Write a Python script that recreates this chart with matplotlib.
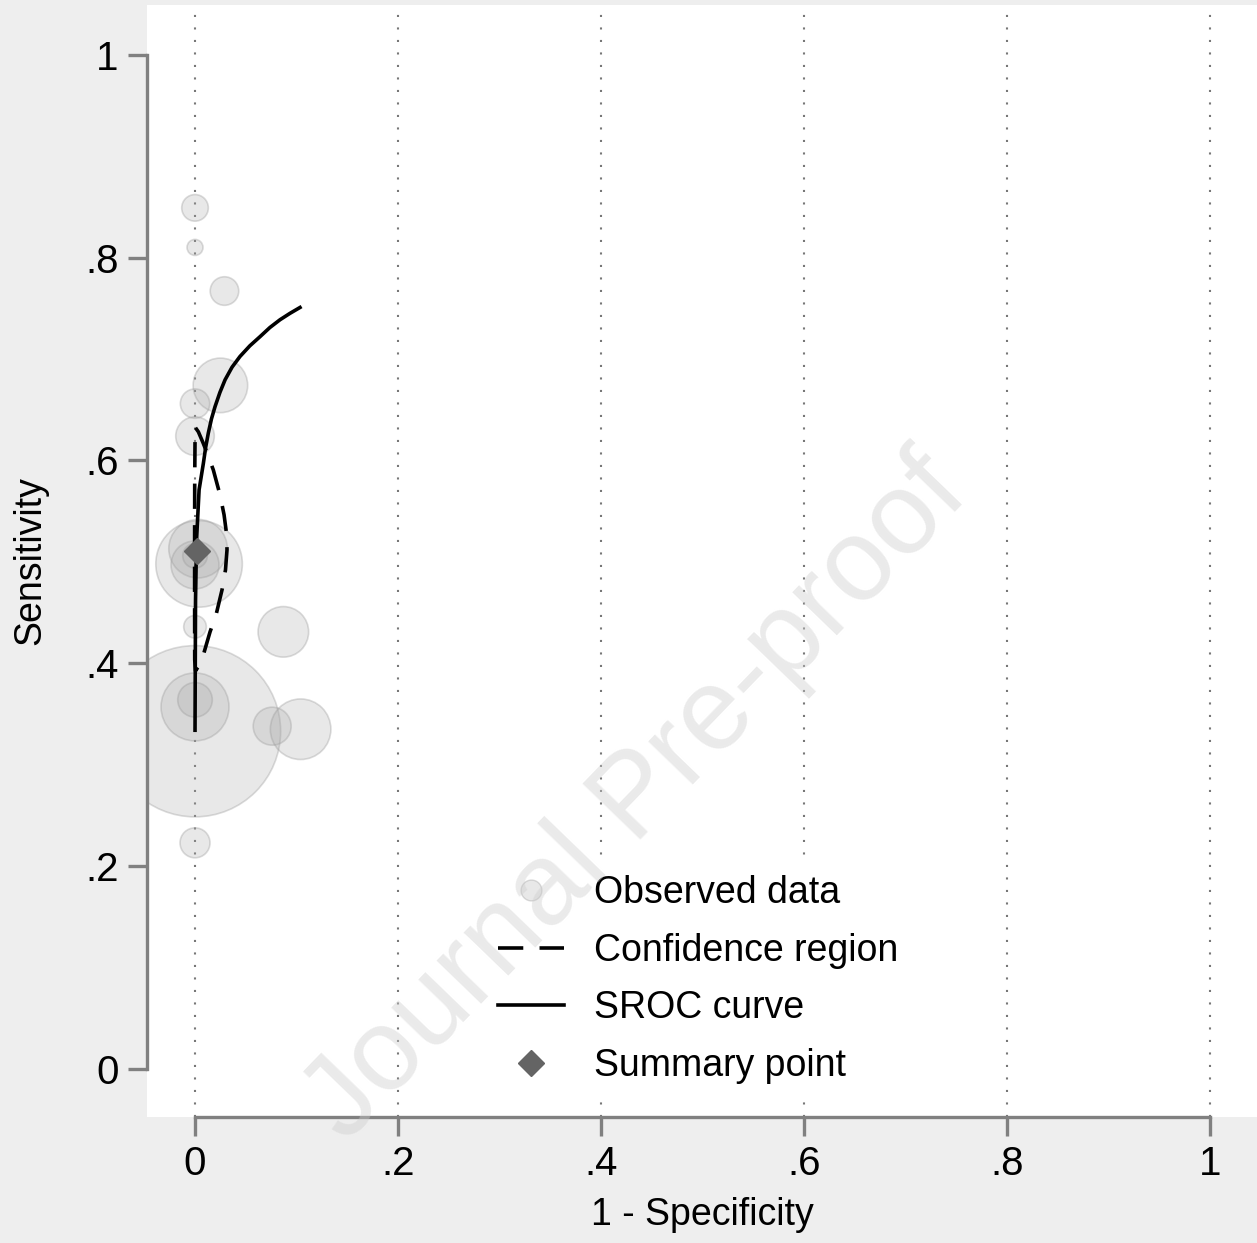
import numpy as np
from matplotlib import pyplot as plt
from matplotlib.lines import Line2D

plt.rcParams['font.family'] = ['Liberation Sans', 'DejaVu Sans']

# observed studies: 1 - specificity, sensitivity, study weight
fpr = [0.0, 0.0, 0.029, 0.025, 0.0, 0.0, 0.004, 0.003, 0.0, 0.0,
       0.0, 0.087, 0.0, 0.0, 0.0, 0.076, 0.104, 0.0]
sens = [0.849, 0.810, 0.767, 0.674, 0.656, 0.624, 0.498, 0.513, 0.497, 0.506,
        0.436, 0.431, 0.333, 0.357, 0.364, 0.338, 0.335, 0.223]
weight = [177, 64, 204, 745, 216, 372, 1875, 858, 576, 151,
          128, 640, 7344, 1156, 299, 361, 918, 225]

# summary point
sum_fpr = 0.0017
sum_sens = 0.511

# SROC curve
sroc_x = [0.0, 0.0005, 0.0015, 0.004, 0.0082, 0.0105, 0.0131, 0.0162, 0.0197,
          0.0245, 0.0296, 0.0365, 0.0443, 0.054, 0.064, 0.0737, 0.0837, 0.0935, 0.1034]
sroc_y = [0.334, 0.4625, 0.5217, 0.571, 0.597, 0.613, 0.627, 0.641, 0.653,
          0.667, 0.6795, 0.692, 0.7025, 0.713, 0.722, 0.731, 0.7387, 0.745, 0.7508]

# confidence region
conf_x = [0.0005, 0.0033, 0.0079, 0.0118, 0.0180, 0.0246, 0.0286, 0.0312,
          0.0315, 0.0300, 0.0266, 0.0207, 0.0148, 0.0082, 0.0030, 0.0005,
          -0.0003, -0.0004, -0.0004, -0.0003, 0.0, 0.0005]
conf_y = [0.6322, 0.6282, 0.6174, 0.6075, 0.5907, 0.5661, 0.5464, 0.5266,
          0.5118, 0.4921, 0.4724, 0.4477, 0.4310, 0.4083, 0.3964, 0.3925,
          0.4034, 0.4625, 0.5217, 0.5809, 0.6193, 0.6322]

ticks = [0, 0.2, 0.4, 0.6, 0.8, 1]
tick_labels = ['0', '.2', '.4', '.6', '.8', '1']

W, H = 1257, 1243
fig = plt.figure(figsize=(W / 100, H / 100), dpi=100)
fig.patch.set_facecolor('#eeeeee')
ax = fig.add_axes([147 / W, (H - 1117) / H, (1257 - 147) / W, (1117 - 5) / H])
ax.set_facecolor('white')
ax.set_axisbelow(True)

grey = '#808080'
fs = 27

# watermark
ax.text(0.4414, 0.286, 'Journal Pre-proof', transform=ax.transAxes,
        fontsize=84, rotation=46, rotation_mode='anchor', ha='center', va='center',
        color=(0.8, 0.8, 0.8), alpha=0.4, zorder=6, clip_on=False)

for t in ticks:
    ax.axvline(t, color='#777777', lw=1.5, ls=(0, (1, 5)), zorder=0.5)

ax.scatter(fpr, sens, s=np.array(weight) * 2.07,
           facecolor=(0.655, 0.655, 0.655, 0.26),
           edgecolor=(0.6, 0.6, 0.6, 0.35), linewidth=1.2, zorder=2)
ax.plot(conf_x, conf_y, color='black', lw=2.6, ls=(0, (7, 4.5)), zorder=3)
ax.plot(sroc_x, sroc_y, color='black', lw=2.6, zorder=3)
ax.plot([sum_fpr], [sum_sens], ls='none', marker='D', markersize=13,
        color='#646464', zorder=4)

ax.set_xlim(-0.0473, 1.046)
ax.set_ylim(-0.0473, 1.049)

for s in ['top', 'right']:
    ax.spines[s].set_visible(False)
for s in ['left', 'bottom']:
    ax.spines[s].set_color(grey)
    ax.spines[s].set_linewidth(2.4)
    ax.spines[s].set_bounds(0, 1)

ax.set_xticks(ticks)
ax.set_xticklabels(tick_labels)
ax.set_yticks(ticks)
ax.set_yticklabels(tick_labels)
ax.tick_params(axis='both', colors=grey, labelcolor='black', labelsize=29,
               length=13.5, width=2.4, pad=7)

ax.set_xlabel('1 - Specificity', fontsize=fs)
ax.set_ylabel('Sensitivity', fontsize=fs)
ax.xaxis.set_label_coords(0.5, -0.072)
ax.yaxis.set_label_coords(-0.089, 0.5)

handles = [
    Line2D([], [], ls='none', marker='o', markersize=15,
           markerfacecolor=(0.655, 0.655, 0.655, 0.26),
           markeredgecolor=(0.6, 0.6, 0.6, 0.35)),
    Line2D([], [], color='black', lw=2.6, ls=(0, (7, 4.5))),
    Line2D([], [], color='black', lw=2.6),
    Line2D([], [], ls='none', marker='D', markersize=13, color='#646464'),
]
labels = ['Observed data', 'Confidence region', 'SROC curve', 'Summary point']
leg = ax.legend(handles, labels, loc='upper left',
                bbox_to_anchor=(483 / W, (H - 860) / H), bbox_transform=fig.transFigure,
                fontsize=fs, frameon=True, fancybox=False, facecolor='white',
                edgecolor='white', framealpha=1, borderpad=0.4, borderaxespad=0,
                handlelength=1.76, handletextpad=0.8, labelspacing=0.58)

fig.savefig('out.png', dpi=100, facecolor=fig.get_facecolor())
